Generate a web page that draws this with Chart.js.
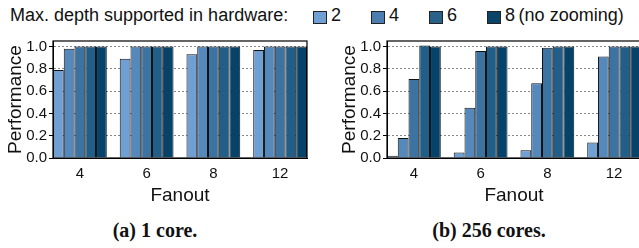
<!DOCTYPE html>
<html>
<head>
<meta charset="utf-8">
<script src="https://cdn.jsdelivr.net/npm/chart.js@4/dist/chart.umd.min.js"></script>
<style>
  html, body { margin:0; padding:0; width:639px; height:248px; overflow:hidden; background:#fff; }
  body { position:relative; font-family:"Liberation Sans", Arial, sans-serif; color:#111; }
  .abs { position:absolute; white-space:nowrap; }
  .lg { font-size:18px; line-height:20px; top:5px; }
  .sw { top:11px; width:14px; height:13px; box-sizing:border-box; border:1px solid #222; }
  .cap { font-family:"Liberation Serif", "Times New Roman", serif; font-weight:bold; font-size:20px; line-height:22px; top:219px; transform:translateX(-50%); }
  canvas { position:absolute; top:30px; }
</style>
</head>
<body>
<div id="legend"></div>
<canvas id="c1" width="320" height="180" style="left:0px"></canvas>
<canvas id="c2" width="320" height="180" style="left:334px"></canvas>
<div class="abs cap" style="left:155px">(a) 1 core.</div>
<div class="abs cap" style="left:489px">(b) 256 cores.</div>
<script>
// ---- data ----
const categories = ['4', '6', '8', '12'];
const legendTitle = 'Max. depth supported in hardware:';
const legendLabels = ['2', '4', '6', '8\u2009(no zooming)'];

// 1 core: one array per bar in each group (left to right)
const oneCoreBar1 = [0.79, 0.89, 0.93, 0.97];
const oneCoreBar2 = [0.98, 1.00, 1.00, 1.00];
const oneCoreBar3 = [1.00, 1.00, 1.00, 1.00];
const oneCoreBar4 = [1.00, 1.00, 1.00, 1.00];
const oneCoreBar5 = [1.00, 1.00, 1.00, 1.00];

// 256 cores
const manyCoreBar1 = [0.02, 0.05, 0.07, 0.14];
const manyCoreBar2 = [0.18, 0.45, 0.67, 0.91];
const manyCoreBar3 = [0.71, 0.96, 0.99, 1.00];
const manyCoreBar4 = [1.01, 1.00, 1.00, 1.00];
const manyCoreBar5 = [1.00, 1.00, 1.00, 1.00];

// ---- styles ----
const barColors = ['#6f9fd3', '#5589bb', '#3c73a0', '#215e88', '#05436a'];
const legendColors = ['#6f9fd3', '#4b7eae', '#2a6189', '#0a4468'];
const legendX = [313, 371, 429, 487];
const groupFrac = 54 / 67;

// ---- legend (HTML) ----
const lg = document.getElementById('legend');
let html = '<div class="abs lg" style="left:10px">' + legendTitle + '</div>';
legendLabels.forEach((t, i) => {
  html += '<div class="abs sw" style="left:' + legendX[i] + 'px;background:' + legendColors[i] + '"></div>';
  html += '<div class="abs lg" style="left:' + (legendX[i] + 18) + 'px">' + t + '</div>';
});
lg.innerHTML = html;

Chart.defaults.font.family = '"Liberation Sans", Arial, sans-serif';
Chart.defaults.color = '#111';

const framePlugin = {
  id: 'frame',
  afterDatasetsDraw(chart) {
    const { ctx, chartArea: a } = chart;
    ctx.save();
    ctx.strokeStyle = '#000';
    ctx.lineWidth = 1.2;
    ctx.setLineDash([]);
    ctx.strokeRect(a.left, a.top, a.right - a.left, a.bottom - a.top);
    ctx.restore();
  }
};

function makeChart(id, series) {
  return new Chart(document.getElementById(id), {
    type: 'bar',
    data: {
      datasets: series.map((vals, i) => ({
        label: 'bar' + (i + 1),
        data: vals.map((v, j) => ({ x: j, y: v })),
        backgroundColor: barColors[i],
        borderColor: '#111',
        borderWidth: 1,
        categoryPercentage: groupFrac,
        barPercentage: 1
      }))
    },
    options: {
      responsive: false,
      animation: false,
      layout: { padding: { top: 11, right: 13, left: 0, bottom: 0 } },
      plugins: { legend: { display: false }, tooltip: { enabled: false } },
      scales: {
        x: {
          type: 'linear',
          min: -groupFrac / 2,
          max: categories.length - 1 + groupFrac / 2,
          offset: false,
          grid: { display: false, drawTicks: false },
          border: { color: '#000', width: 1 },
          ticks: {
            stepSize: 1, includeBounds: false, autoSkip: false, maxRotation: 0,
            callback: v => (Number.isInteger(v) && categories[v] !== undefined) ? categories[v] : '',
            font: { size: 15 }, color: '#111', padding: 7
          },
          title: { display: true, text: 'Fanout', font: { size: 19 }, color: '#111', padding: { top: 0, bottom: 3 } },
          afterFit: s => { s.height = 52; }
        },
        y: {
          min: 0, max: 1.05,
          grid: { color: '#888', lineWidth: 1, tickLength: 4, tickColor: '#000', tickBorderDash: [] },
          border: { color: '#000', width: 1, dash: [2, 2] },
          ticks: { stepSize: 0.2, includeBounds: false, callback: v => v.toFixed(1), font: { size: 15 }, color: '#111', padding: 2 },
          title: { display: true, text: 'Performance', font: { size: 19 }, color: '#111', padding: { top: 4, bottom: 0 } },
          afterFit: s => { s.width = 53; }
        }
      }
    },
    plugins: [framePlugin]
  });
}

makeChart('c1', [oneCoreBar1, oneCoreBar2, oneCoreBar3, oneCoreBar4, oneCoreBar5]);
makeChart('c2', [manyCoreBar1, manyCoreBar2, manyCoreBar3, manyCoreBar4, manyCoreBar5]);
</script>
</body>
</html>
